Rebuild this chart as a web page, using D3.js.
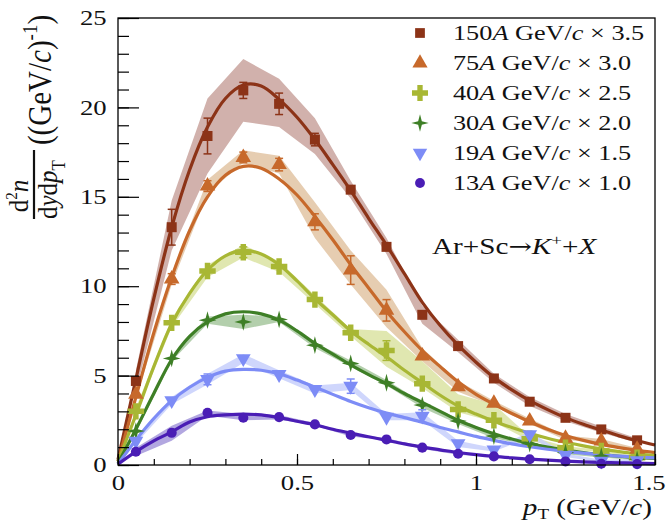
<!DOCTYPE html>
<html>
<head>
<meta charset="utf-8">
<script src="https://cdn.jsdelivr.net/npm/d3@7"></script>
<style>
  body { margin: 0; background: #fff; }
  text { font-family: "Liberation Serif", "Times New Roman", serif; fill: #111; }
</style>
</head>
<body>
<svg id="chart"></svg>
<script>
// pT bin centres of the measured points and sample points of the fitted curves
const ptPoints = [0.05, 0.15, 0.25, 0.35, 0.45, 0.55, 0.65, 0.75, 0.85, 0.95, 1.05, 1.15, 1.25, 1.35, 1.45];
const ptFit = [0, 0.05, 0.1, 0.15, 0.2, 0.25, 0.3, 0.35, 0.4, 0.45, 0.5, 0.55, 0.6, 0.65, 0.7, 0.75,
               0.8, 0.85, 0.9, 0.95, 1.0, 1.05, 1.1, 1.15, 1.2, 1.25, 1.3, 1.35, 1.4, 1.45, 1.5];

const beams = ["150", "75", "40", "30", "19", "13"];
const factors = ["3.5", "3.0", "2.5", "2.0", "1.5", "1.0"];

// 150A GeV/c x 3.5
const y150 = [4.7, 13.3, 18.4, 20.95, 20.2, 18.2, 15.4, 12.2, 8.4, 6.65, 4.84, 3.54, 2.64, 1.99, 1.38];
const stat150 = [0.2, 1.0, 1.0, 0.45, 0.6, 0.35, 0.2, 0.2, 0.15, 0.1, 0.1, 0.08, 0.07, 0.06, 0.05];
const sysHi150 = [5.3, 14.8, 20.5, 22.7, 21.6, 19.4, 15.9, 12.7, 8.9, 7.0, 5.1, 3.8, 2.85, 2.15, 1.5];
const sysLo150 = [4.1, 12.0, 16.3, 19.2, 18.9, 17.4, 14.9, 11.8, 7.9, 6.3, 4.6, 3.3, 2.45, 1.8, 1.25];
const fit150 = [0.3, 4.8, 9.3, 13.3, 16.5, 18.9, 20.5, 21.25, 21.2, 20.45, 19.45, 18.2, 16.8, 15.35, 13.8, 12.3,
                10.7, 9.1, 7.8, 6.7, 5.75, 4.9, 4.2, 3.6, 3.1, 2.65, 2.28, 1.95, 1.63, 1.36, 1.12];

// 75A GeV/c x 3.0
const y75 = [3.95, 10.4, 15.6, 17.2, 16.8, 13.6, 10.9, 8.65, 6.1, 4.37, 3.45, 2.46, 1.49, 1.34, 0.88];
const stat75 = [0.15, 0.3, 0.3, 0.3, 0.35, 0.45, 0.8, 0.6, 0.2, 0.15, 0.1, 0.08, 0.07, 0.06, 0.05];
const sysHi75 = [4.2, 10.7, 15.95, 17.6, 17.3, 14.7, 12.0, 9.8, 6.55, 4.7, 3.6, 2.6, 1.65, 1.45, 0.95];
const sysLo75 = [3.7, 10.1, 15.2, 16.9, 16.3, 12.7, 10.1, 7.7, 5.8, 4.1, 3.3, 2.3, 1.4, 1.23, 0.8];
const fit75 = [0.2, 3.8, 7.4, 10.5, 13.1, 15.0, 16.2, 16.7, 16.6, 16.0, 15.1, 13.9, 12.6, 11.2, 9.9, 8.6,
               7.45, 6.4, 5.5, 4.65, 3.95, 3.4, 2.88, 2.42, 2.0, 1.65, 1.38, 1.15, 0.97, 0.82, 0.69];

// 40A GeV/c x 2.5
const y40 = [3.0, 7.95, 10.85, 11.9, 11.1, 9.25, 7.4, 6.4, 4.55, 3.11, 2.5, 1.47, 0.97, 0.78, 0.41];
const stat40 = [0.1, 0.2, 0.2, 0.3, 0.25, 0.2, 0.2, 0.55, 0.2, 0.15, 0.1, 0.08, 0.06, 0.05, 0.04];
const sysHi40 = [3.2, 8.2, 11.2, 12.3, 11.4, 9.5, 7.6, 7.5, 5.8, 3.95, 3.4, 1.6, 1.05, 0.85, 0.46];
const sysLo40 = [2.8, 7.7, 10.5, 11.6, 10.8, 9.0, 7.2, 5.5, 4.3, 2.95, 2.4, 1.35, 0.9, 0.72, 0.37];
const fit40 = [0.2, 2.8, 5.5, 7.9, 9.6, 10.9, 11.7, 12.0, 11.8, 11.2, 10.3, 9.3, 8.4, 7.5, 6.75, 6.05,
               5.3, 4.6, 3.9, 3.3, 2.85, 2.45, 2.1, 1.78, 1.5, 1.27, 1.07, 0.9, 0.75, 0.62, 0.52];

// 30A GeV/c x 2.0
const y30 = [1.9, 5.96, 8.1, 8.0, 8.14, 6.7, 5.68, 4.6, 3.35, 2.46, 1.62, 1.19, 0.69, 0.5, 0.32];
const stat30 = [0.1, 0.15, 0.15, 0.15, 0.15, 0.12, 0.12, 0.1, 0.1, 0.08, 0.06, 0.05, 0.04, 0.04, 0.03];
const sysHi30 = [2.0, 6.1, 8.3, 8.4, 8.3, 6.85, 5.85, 4.75, 3.5, 2.6, 1.75, 1.3, 0.78, 0.58, 0.38];
const sysLo30 = [1.8, 5.8, 7.9, 7.6, 8.0, 6.55, 5.5, 4.45, 3.2, 2.3, 1.5, 1.1, 0.6, 0.42, 0.27];
const fit30 = [0.1, 2.0, 4.0, 5.9, 7.2, 8.0, 8.45, 8.57, 8.45, 8.1, 7.5, 6.8, 6.2, 5.6, 5.05, 4.55,
               4.0, 3.5, 3.0, 2.5, 2.1, 1.75, 1.45, 1.2, 1.0, 0.84, 0.7, 0.58, 0.49, 0.42, 0.37];

// 19A GeV/c x 1.5
const y19 = [1.34, 3.61, 4.79, 5.96, 5.07, 4.23, 4.41, 2.68, 2.74, 1.2, 0.85, 1.71, 0.55, 0.22, 0.25];
const stat19 = [0.08, 0.15, 0.3, 0.2, 0.2, 0.15, 0.4, 0.15, 0.35, 0.1, 0.08, 0.1, 0.05, 0.04, 0.04];
const sysHi19 = [1.45, 3.8, 5.1, 6.2, 5.3, 4.45, 4.6, 2.85, 2.95, 1.35, 0.95, 1.85, 0.65, 0.3, 0.32];
const sysLo19 = [1.2, 3.4, 4.5, 5.7, 4.85, 4.0, 4.2, 2.5, 2.5, 1.0, 0.75, 1.55, 0.45, 0.15, 0.18];
const fit19 = [0.05, 1.4, 2.6, 3.6, 4.35, 4.9, 5.25, 5.35, 5.3, 5.1, 4.75, 4.35, 3.95, 3.55, 3.2, 2.9,
               2.65, 2.4, 2.1, 1.85, 1.6, 1.38, 1.18, 1.02, 0.88, 0.76, 0.66, 0.57, 0.5, 0.44, 0.4];

// 13A GeV/c x 1.0
const y13 = [0.74, 1.8, 2.92, 2.64, 2.68, 2.27, 1.68, 1.43, 0.97, 0.63, 0.48, 0.32, 0.2, 0.07, 0.05];
const stat13 = [0.05, 0.06, 0.06, 0.06, 0.06, 0.05, 0.05, 0.04, 0.04, 0.03, 0.03, 0.02, 0.02, 0.02, 0.02];
const sysHi13 = [0.97, 2.2, 3.05, 2.85, 2.8, 2.35, 1.75, 1.5, 1.05, 0.68, 0.52, 0.36, 0.24, 0.1, 0.08];
const sysLo13 = [0.5, 1.35, 2.75, 2.5, 2.55, 2.2, 1.6, 1.38, 0.9, 0.58, 0.44, 0.28, 0.16, 0.04, 0.02];
const fit13 = [0.05, 0.75, 1.35, 1.85, 2.4, 2.7, 2.8, 2.85, 2.8, 2.65, 2.45, 2.25, 2.0, 1.78, 1.58, 1.38,
               1.18, 1.0, 0.85, 0.7, 0.58, 0.48, 0.4, 0.33, 0.27, 0.22, 0.18, 0.15, 0.12, 0.1, 0.08];

const yTicks = [0, 5, 10, 15, 20, 25];
const xTicks = [0, 0.5, 1, 1.5];

// 4-pointed star marker
const star4 = {
    draw(ctx, size) {
        const r = Math.sqrt(size) * 0.78, ri = r * 0.3;
        for (let i = 0; i < 8; i++) {
            const a = i * Math.PI / 4 - Math.PI / 2;
            const rr = i % 2 ? ri : r;
            const px = rr * Math.cos(a), py = rr * Math.sin(a);
            if (i) ctx.lineTo(px, py); else ctx.moveTo(px, py);
        }
        ctx.closePath();
    }
};

const series = [
    { y: y150, stat: stat150, hi: sysHi150, lo: sysLo150, fit: fit150, color: "#8c3317", band: "#c9a39e", sym: d3.symbolSquare, size: 100, rot: 0 },
    { y: y75, stat: stat75, hi: sysHi75, lo: sysLo75, fit: fit75, color: "#c7692b", band: "#e2c4a3", sym: d3.symbolTriangle, size: 105, rot: 0 },
    { y: y40, stat: stat40, hi: sysHi40, lo: sysLo40, fit: fit40, color: "#a8b734", band: "#dbe3a2", sym: d3.symbolCross, size: 150, rot: 0 },
    { y: y30, stat: stat30, hi: sysHi30, lo: sysLo30, fit: fit30, color: "#3e7f26", band: "#a6c79d", sym: star4, size: 130, rot: 0 },
    { y: y19, stat: stat19, hi: sysHi19, lo: sysLo19, fit: fit19, color: "#7d8cf6", band: "#c7cffb", sym: d3.symbolTriangle, size: 95, rot: 180 },
    { y: y13, stat: stat13, hi: sysHi13, lo: sysLo13, fit: fit13, color: "#4a1db5", band: "#a598da", sym: d3.symbolCircle, size: 80, rot: 0 }
];

const W = 666, H = 522;
const SX = 1.27; // horizontal stretch of the glyphs in the original picture
const fLeft = 118, fRight = 655, fTop = 18, fBottom = 465;

const svg = d3.select("#chart")
    .attr("width", W)
    .attr("height", H)
    .attr("viewBox", `0 0 ${W} ${H}`);

svg.append("rect").attr("width", W).attr("height", H).attr("fill", "#fff");

const x = d3.scaleLinear().domain([0, 1.5]).range([fLeft, fRight]);
const y = d3.scaleLinear().domain([0, 25]).range([fBottom, fTop]);

const plot = svg.append("g");

// systematic bands
const area = d3.area()
    .x((d, i) => x(ptPoints[i]))
    .y0(d => y(d[0]))
    .y1(d => y(d[1]));

series.forEach(s => {
    plot.append("path")
        .datum(s.lo.map((v, i) => [v, s.hi[i]]))
        .attr("fill", s.band)
        .attr("fill-opacity", 0.85)
        .attr("d", area);
});

// fitted curves
const line = d3.line()
    .x((d, i) => x(ptFit[i]))
    .y(d => y(d))
    .curve(d3.curveCatmullRom);

series.forEach(s => {
    plot.append("path")
        .datum(s.fit)
        .attr("fill", "none")
        .attr("stroke", s.color)
        .attr("stroke-width", 3.2)
        .attr("d", line);
});

// statistical error bars and markers
series.forEach(s => {
    const g = plot.append("g").attr("stroke", s.color).attr("stroke-width", 1.5);
    s.y.forEach((v, i) => {
        const px = x(ptPoints[i]);
        const y1 = y(v + s.stat[i]), y2 = y(v - s.stat[i]);
        if (y2 - y1 < 10) return; // hidden behind the marker
        g.append("line").attr("x1", px).attr("x2", px).attr("y1", y1).attr("y2", y2);
        g.append("line").attr("x1", px - 4).attr("x2", px + 4).attr("y1", y1).attr("y2", y1);
        g.append("line").attr("x1", px - 4).attr("x2", px + 4).attr("y1", y2).attr("y2", y2);
    });
    plot.append("g").selectAll("path")
        .data(s.y)
        .join("path")
        .attr("transform", (d, i) => `translate(${x(ptPoints[i])},${y(d)}) rotate(${s.rot})`)
        .attr("fill", s.color)
        .attr("d", d3.symbol().type(s.sym).size(s.size));
});

// frame
svg.append("rect")
    .attr("x", fLeft).attr("y", fTop)
    .attr("width", fRight - fLeft).attr("height", fBottom - fTop)
    .attr("fill", "none").attr("stroke", "#000").attr("stroke-width", 1.3);

// axes with inward ticks
const yAxis = svg.append("g")
    .attr("transform", `translate(${fLeft},0)`)
    .call(d3.axisLeft(y).tickValues(yTicks).tickSizeInner(-21).tickSizeOuter(0).tickPadding(9)
        .tickFormat(d3.format("d")));
svg.append("g")
    .attr("transform", `translate(${fLeft},0)`)
    .call(d3.axisLeft(y).ticks(25).tickSizeInner(-11).tickSizeOuter(0).tickFormat(""));

const xAxis = svg.append("g")
    .attr("transform", `translate(0,${fBottom})`)
    .call(d3.axisBottom(x).tickValues(xTicks).tickSizeInner(-11).tickSizeOuter(0).tickPadding(10)
        .tickFormat(d => String(d)));
svg.append("g")
    .attr("transform", `translate(0,${fBottom})`)
    .call(d3.axisBottom(x).ticks(15).tickSizeInner(-6).tickSizeOuter(0).tickFormat(""));

svg.selectAll(".domain").remove();
svg.selectAll(".tick line").attr("stroke", "#000").attr("stroke-width", 1.2);
[yAxis, xAxis].forEach(a => a.selectAll("text")
    .attr("font-size", 21)
    .attr("font-family", "Liberation Serif")
    .attr("fill", "#111")
    .attr("transform", `scale(${SX},1)`));
// the last x label sits at the frame edge; keep it inside the page
xAxis.selectAll(".tick").filter(d => d === 1.5).select("text")
    .attr("text-anchor", "end").attr("x", 8);

// x-axis title
const xt = svg.append("g").attr("transform", `translate(652,515) scale(${SX},1)`)
    .append("text").attr("text-anchor", "end").attr("font-size", 23);
xt.append("tspan").attr("font-style", "italic").text("p");
xt.append("tspan").attr("font-size", 15).attr("dy", 4).text("T");
xt.append("tspan").attr("dy", -4).text(" (GeV/");
xt.append("tspan").attr("font-style", "italic").text("c");
xt.append("tspan").text(")");

// y-axis title: d²n / dydp_T ((GeV/c)^-1)
const YS = 1.1;
const num = svg.append("g").attr("transform", `translate(28,196) rotate(-90) scale(1,${YS})`)
    .append("text").attr("text-anchor", "middle").attr("font-size", 25);
num.append("tspan").text("d");
num.append("tspan").attr("font-size", 15).attr("dy", -10).text("2");
num.append("tspan").attr("font-style", "italic").attr("dy", 10).text("n");

svg.append("line").attr("x1", 34).attr("x2", 34).attr("y1", 150).attr("y2", 219)
    .attr("stroke", "#111").attr("stroke-width", 2.2);

const den = svg.append("g").attr("transform", `translate(57,219) rotate(-90) scale(1,${YS})`)
    .append("text").attr("text-anchor", "start").attr("font-size", 25);
den.append("tspan").text("d");
den.append("tspan").attr("font-style", "italic").text("y");
den.append("tspan").text("d");
den.append("tspan").attr("font-style", "italic").text("p");
den.append("tspan").attr("font-size", 17).attr("dy", 7).text("T");

const unit = svg.append("g").attr("transform", `translate(51,80) rotate(-90) scale(1,1.15)`)
    .append("text").attr("text-anchor", "middle").attr("font-size", 29);
unit.append("tspan").text("((GeV/");
unit.append("tspan").attr("font-style", "italic").text("c");
unit.append("tspan").text(")");
unit.append("tspan").attr("font-size", 19).attr("dy", -12).text("-1");
unit.append("tspan").attr("dy", 12).text(")");

// legend
beams.forEach((b, i) => {
    const s = series[i];
    const cy = 33 + i * 30;
    svg.append("path")
        .attr("transform", `translate(420,${cy}) rotate(${s.rot})`)
        .attr("fill", s.color)
        .attr("d", d3.symbol().type(s.sym).size(s.size * 0.95));
    const t = svg.append("g").attr("transform", `translate(453,${cy + 7}) scale(1.25,1)`)
        .append("text").attr("font-size", 21);
    t.append("tspan").text(b);
    t.append("tspan").attr("font-style", "italic").text("A");
    t.append("tspan").text(" GeV/");
    t.append("tspan").attr("font-style", "italic").text("c");
    t.append("tspan").text(" \u00d7 " + factors[i]);
});

// reaction label
const rx = svg.append("g").attr("transform", `translate(432,254) scale(${SX},1)`)
    .append("text").attr("font-size", 23);
rx.append("tspan").text("Ar+Sc");
rx.append("tspan").attr("font-family", "DejaVu Serif").attr("font-size", 22).text("\u2192");
rx.append("tspan").attr("font-style", "italic").text("K");
rx.append("tspan").attr("font-size", 15).attr("dy", -9).text("+");
rx.append("tspan").attr("dy", 9).text("+");
rx.append("tspan").attr("font-style", "italic").text("X");
</script>
</body>
</html>
